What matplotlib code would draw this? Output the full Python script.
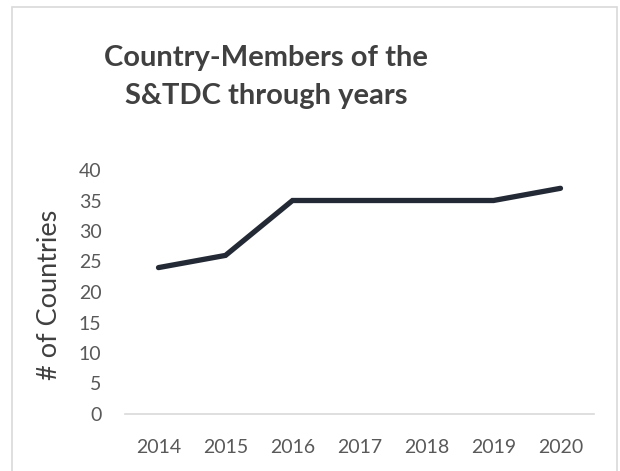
import matplotlib.pyplot as plt
from matplotlib.patches import Rectangle

years = ["2014", "2015", "2016", "2017", "2018", "2019", "2020"]
countries = [24, 26, 35, 35, 35, 35, 37]
yticks = [0, 5, 10, 15, 20, 25, 30, 35, 40]

W, H = 620, 471
fig = plt.figure(figsize=(W / 100, H / 100), dpi=100)
plt.rcParams['font.family'] = ['Lato', 'DejaVu Sans']

# chart border like an excel chart frame
fig.patches.append(Rectangle((12 / W, -0.01), 605 / W, 1 - 7 / H + 0.01,
                             transform=fig.transFigure, fill=False,
                             edgecolor='#d9d9d9', linewidth=1.2))

ax = fig.add_axes([125 / W, 1 - 414 / H, (594 - 125) / W, (414 - 170) / H])
x = list(range(len(years)))
ax.plot(x, countries, color='#232a35', linewidth=3.8, solid_capstyle='round',
        solid_joinstyle='miter')
ax.set_xlim(-0.5, len(years) - 0.5)
ax.set_ylim(0, 40)
ax.set_xticks(x)
ax.set_xticklabels(years)
ax.set_yticks(yticks)
for s in ['top', 'right', 'left']:
    ax.spines[s].set_visible(False)
ax.spines['bottom'].set_color('#d9d9d9')
ax.spines['bottom'].set_linewidth(1.2)
ax.tick_params(axis='both', length=0, labelsize=14, labelcolor='#595959')
ax.tick_params(axis='x', pad=18)
ax.tick_params(axis='y', pad=17)
ax.patch.set_visible(False)

fig.text(50 / W, 1 - 295 / H, "# of Countries", rotation=90, ha='center',
         va='center', fontsize=19.5, color='#404040')
fig.text(266 / W, 1 - 77 / H, "Country-Members of the\nS&TDC through years",
         ha='center', va='center', fontsize=21, fontweight='bold',
         color='#404040', linespacing=1.6)

fig.savefig("out.png", dpi=100)
